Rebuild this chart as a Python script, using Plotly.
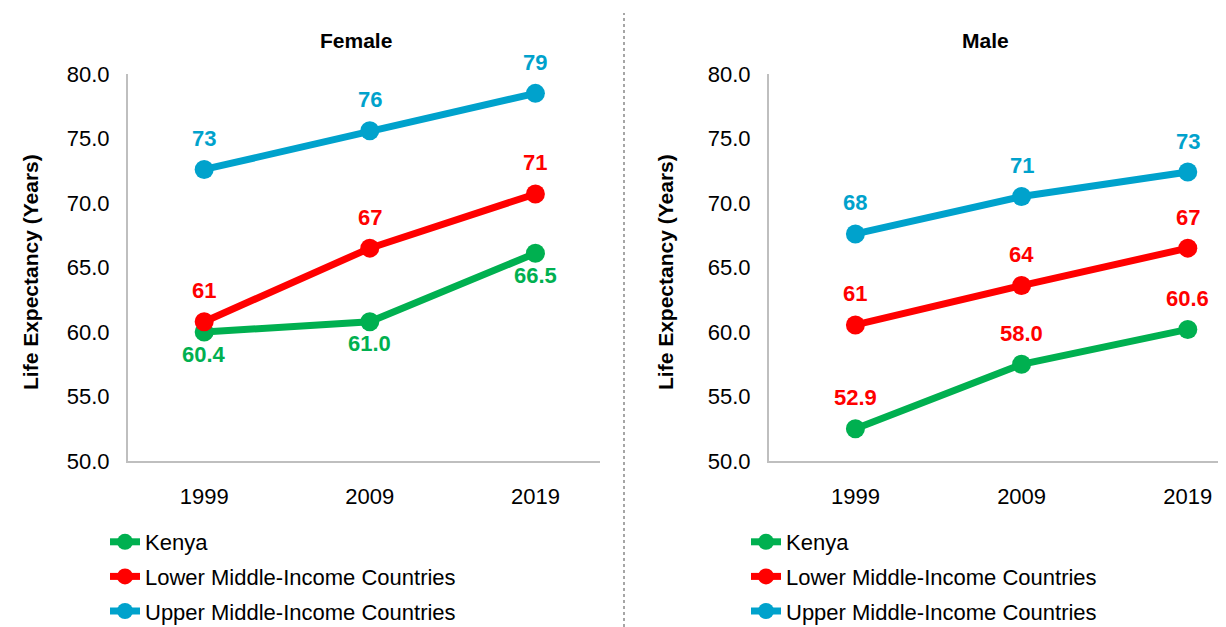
import plotly.graph_objects as go

years = ["1999", "2009", "2019"]
series = ["Kenya", "Lower Middle-Income Countries", "Upper Middle-Income Countries"]
colors = ["#00B050", "#FF0000", "#00A2CC"]

# plotted values (read from point positions)
female_kenya = [60.0, 60.8, 66.1]
female_lmic = [60.8, 66.5, 70.7]
female_umic = [72.6, 75.6, 78.5]
male_kenya = [52.5, 57.5, 60.2]
male_lmic = [60.55, 63.6, 66.5]
male_umic = [67.6, 70.5, 72.4]

# printed data labels
female_kenya_lbl = ["60.4", "61.0", "66.5"]
female_lmic_lbl = ["61", "67", "71"]
female_umic_lbl = ["73", "76", "79"]
male_kenya_lbl = ["52.9", "58.0", "60.6"]
male_lmic_lbl = ["61", "64", "67"]
male_umic_lbl = ["68", "71", "73"]

y_ticks = [50, 55, 60, 65, 70, 75, 80]
y_tick_text = ["50.0", "55.0", "60.0", "65.0", "70.0", "75.0", "80.0"]

FONT = "Liberation Sans, Arial, sans-serif"
OFF = 8                      # page body margin
W, H = 1226 - OFF, 627 - OFF


def px(xr):
    return (xr - OFF) / W


def py(yr):
    return 1 - (yr - OFF) / H


fig = go.Figure()

panels = [
    ("x", "y", "legend", [female_kenya, female_lmic, female_umic],
     [female_kenya_lbl, female_lmic_lbl, female_umic_lbl],
     [colors[0], colors[1], colors[2]], ["below", "above", "above"]),
    ("x2", "y2", "legend2", [male_kenya, male_lmic, male_umic],
     [male_kenya_lbl, male_lmic_lbl, male_umic_lbl],
     [colors[1], colors[1], colors[2]], ["above", "above", "above"]),
]

annotations = []
for xa, ya, leg, vals, lbls, lblcols, pos in panels:
    for i, name in enumerate(series):
        fig.add_trace(go.Scatter(
            x=years, y=vals[i], name=name, mode="lines+markers",
            line=dict(color=colors[i], width=7),
            marker=dict(color=colors[i], size=19),
            xaxis=xa, yaxis=ya, legend=leg, legendgroup=leg + str(i),
            showlegend=True, cliponaxis=False,
        ))
        for k, (yv, t) in enumerate(zip(vals[i], lbls[i])):
            annotations.append(dict(
                x=k, y=yv, xref=xa, yref=ya, text="<b>%s</b>" % t,
                showarrow=False, font=dict(family=FONT, size=22, color=lblcols[i]),
                yshift=31 if pos[i] == "above" else -22,
            ))

ydom = [py(461), py(74)]
axis_common = dict(showgrid=False, zeroline=False, showline=True,
                   linecolor="#BFBFBF", linewidth=2, ticks="",
                   tickfont=dict(family=FONT, size=22, color="#000000"))

fig.update_layout(
    width=W, height=H,
    margin=dict(l=0, r=0, t=0, b=0, autoexpand=False),
    paper_bgcolor="white", plot_bgcolor="white",
    font=dict(family=FONT, color="#000000"),
    xaxis=dict(domain=[px(128), px(600)], type="category", range=[-0.46, 2.39],
               anchor="y", ticklabelstandoff=15, **axis_common),
    yaxis=dict(domain=ydom, range=[50, 80], tickvals=y_ticks, ticktext=y_tick_text,
               anchor="x", ticklabelstandoff=12, **axis_common),
    xaxis2=dict(domain=[px(769), 1.0], type="category", range=[-0.52, 2.23],
                anchor="y2", ticklabelstandoff=15, **axis_common),
    yaxis2=dict(domain=ydom, range=[50, 80], tickvals=y_ticks, ticktext=y_tick_text,
                anchor="x2", ticklabelstandoff=12, **axis_common),
    legend=dict(x=px(105), y=py(521), xanchor="left", yanchor="top",
                font=dict(family=FONT, size=22), tracegroupgap=3,
                bgcolor="rgba(0,0,0,0)"),
    legend2=dict(x=px(746), y=py(521), xanchor="left", yanchor="top",
                 font=dict(family=FONT, size=22), tracegroupgap=3,
                 bgcolor="rgba(0,0,0,0)"),
)

# panel titles and axis titles
annotations += [
    dict(x=px(356), y=py(40), xref="paper", yref="paper", text="<b>Female</b>",
         xanchor="center", yanchor="middle",
         showarrow=False, font=dict(family=FONT, size=21)),
    dict(x=px(985), y=py(40), xref="paper", yref="paper", text="<b>Male</b>",
         xanchor="center", yanchor="middle",
         showarrow=False, font=dict(family=FONT, size=21)),
    dict(x=px(30), y=py(272), xref="paper", yref="paper",
         text="<b>Life Expectancy (Years)</b>", textangle=-90,
         xanchor="center", yanchor="middle",
         showarrow=False, font=dict(family=FONT, size=21)),
    dict(x=px(665), y=py(272), xref="paper", yref="paper",
         text="<b>Life Expectancy (Years)</b>", textangle=-90,
         xanchor="center", yanchor="middle",
         showarrow=False, font=dict(family=FONT, size=21)),
]
fig.update_layout(annotations=annotations)

fig.add_shape(type="line", xref="paper", yref="paper",
              x0=px(624), x1=px(624), y0=0, y1=py(13),
              line=dict(color="#A6A6A6", width=2, dash="3px,3px"))

fig.write_html("out.html")
